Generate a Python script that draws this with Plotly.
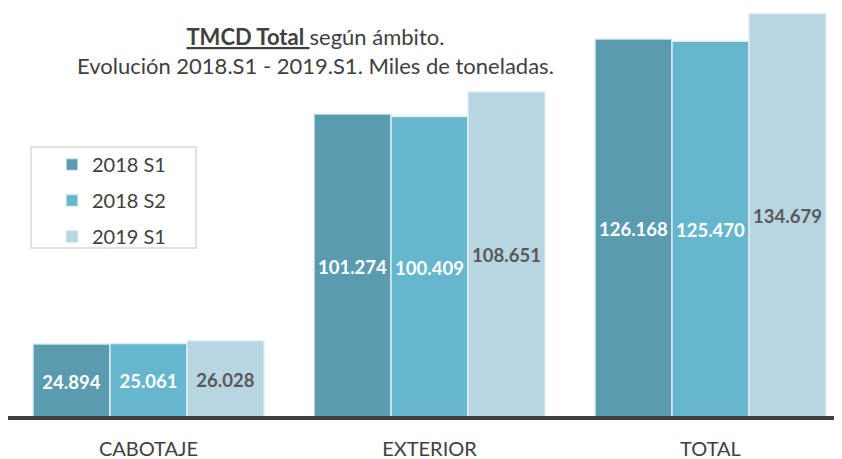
import plotly.graph_objects as go

categories = ["CABOTAJE", "EXTERIOR", "TOTAL"]
series_names = ["2018 S1", "2018 S2", "2019 S1"]
s2018_1 = [24894, 101274, 126168]
s2018_2 = [25061, 100409, 125470]
s2019_1 = [26028, 108651, 134679]

colors = ["#5A9BAF", "#66B7CE", "#B8D6E1"]
text_colors = ["white", "white", "#595959"]

FONT = "Lato"
PH = 408  # plot height in px
PW = 834
FH = 451

def px(xp):  # page x -> paper
    return (xp - 8) / PW

def py(yp):  # page y -> paper
    return 1 - (yp - 8) / PH

fig = go.Figure()
for name, vals, col, tc in zip(series_names, [s2018_1, s2018_2, s2019_1], colors, text_colors):
    fig.add_trace(go.Bar(
        x=categories, y=vals, name=name,
        marker=dict(color=col, line=dict(color="rgba(225,238,243,0.9)", width=1.5)),
        texttemplate="%{y:,}", textposition="inside", insidetextanchor="middle",
        textangle=0,
        textfont=dict(family=FONT, size=18.5, color=tc, weight="bold"),
        legendgroup=name,
    ))

fig.update_layout(
    width=PW, height=FH,
    margin=dict(l=0, r=0, t=0, b=FH - PH),
    paper_bgcolor="white", plot_bgcolor="white",
    separators=",.",
    barmode="group", bargap=0.178, bargroupgap=0,
    font=dict(family=FONT, color="#404040"),
    xaxis=dict(range=[-0.5, 2.468], showgrid=False, showline=True, linecolor="#404040",
               linewidth=4, ticks="outside", ticklen=12, tickcolor="rgba(0,0,0,0)",
               automargin=False,
               tickfont=dict(family=FONT, size=20, color="#404040")),
    yaxis=dict(range=[1000, 1000 + PH / 3.0116 * 1000], visible=False, showgrid=False),
    legend=dict(x=px(52), y=py(145), xanchor="left", yanchor="top",
                bgcolor="rgba(0,0,0,0)", borderwidth=0,
                font=dict(family=FONT, size=20, color="#404040"),
                tracegroupgap=7, traceorder="grouped"),
    showlegend=True,
    shapes=[dict(type="rect", xref="paper", yref="paper",
                 x0=px(31), x1=px(196), y0=py(248), y1=py(147),
                 line=dict(color="#D9D9D9", width=1.5), fillcolor="rgba(0,0,0,0)")],
    annotations=[dict(
        xref="paper", yref="paper", x=px(315), y=py(51), xanchor="center", yanchor="middle",
        text="<b><u>TMCD Total </u></b>según ámbito.<br>Evolución 2018.S1 - 2019.S1. Miles de toneladas.",
        showarrow=False, align="center",
        font=dict(family=FONT, size=22, color="#404040"),
    )],
)

fig.write_html("out.html")
